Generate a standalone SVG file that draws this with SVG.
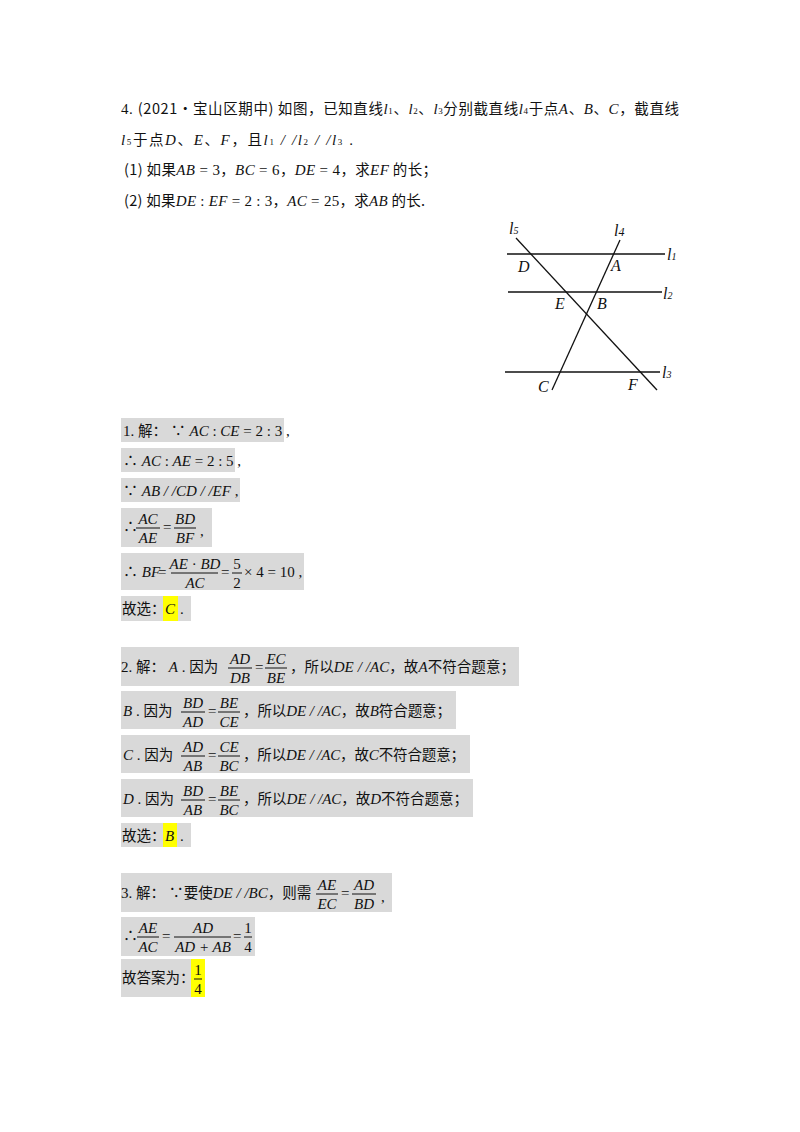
<svg xmlns="http://www.w3.org/2000/svg" width="800" height="1132" viewBox="0 0 800 1132">
<style>
text{font-family:"Liberation Serif","Noto Sans CJK SC",serif;font-size:15px;fill:#111}
.i{font-style:italic}
.c{font-family:"Noto Sans CJK SC","Liberation Sans",sans-serif;font-size:14.5px}
.bg{fill:#d9d9d9}
.hl{fill:#ffff00}
.fl{stroke:#111;stroke-width:1}
.g{stroke:#111;stroke-width:1.3;fill:none}
.lb{font-family:"Liberation Serif",serif;font-style:italic;font-size:16px}
</style>
<rect width="800" height="1132" fill="#fff"/>
<g id="question">
<text x="121" y="114" textLength="558" lengthAdjust="spacing">4. <tspan class="c">(2021•宝山区期中) 如图，已知直线</tspan><tspan class="i">l</tspan><tspan font-size="9">1</tspan><tspan class="c">、</tspan><tspan class="i">l</tspan><tspan font-size="9">2</tspan><tspan class="c">、</tspan><tspan class="i">l</tspan><tspan font-size="9">3</tspan><tspan class="c">分别截直线</tspan><tspan class="i">l</tspan><tspan font-size="9">4</tspan><tspan class="c">于点</tspan><tspan class="i">A</tspan><tspan class="c">、</tspan><tspan class="i">B</tspan><tspan class="c">、</tspan><tspan class="i">C</tspan><tspan class="c">，截直线</tspan></text>
<text x="121" y="145" textLength="232" lengthAdjust="spacing"><tspan class="i">l</tspan><tspan font-size="9">5</tspan><tspan class="c">于点</tspan><tspan class="i">D</tspan><tspan class="c">、</tspan><tspan class="i">E</tspan><tspan class="c">、</tspan><tspan class="i">F</tspan><tspan class="c">，且</tspan><tspan class="i">l</tspan><tspan font-size="9">1</tspan><tspan class="i"> / /l</tspan><tspan font-size="9">2</tspan><tspan class="i"> / /l</tspan><tspan font-size="9">3</tspan> .</text>
<text x="124" y="175" textLength="313" lengthAdjust="spacing"><tspan class="c">(1) 如果</tspan><tspan class="i">AB</tspan> = 3<tspan class="c">，</tspan><tspan class="i">BC</tspan> = 6<tspan class="c">，</tspan><tspan class="i">DE</tspan> = 4<tspan class="c">，求</tspan><tspan class="i">EF</tspan><tspan class="c"> 的长；</tspan></text>
<text x="124" y="206" textLength="301" lengthAdjust="spacing"><tspan class="c">(2) 如果</tspan><tspan class="i">DE</tspan> : <tspan class="i">EF</tspan> = 2 : 3<tspan class="c">，</tspan><tspan class="i">AC</tspan> = 25<tspan class="c">，求</tspan><tspan class="i">AB</tspan><tspan class="c"> 的长.</tspan></text>
</g>
<g id="figure">
<line class="g" x1="507" y1="254" x2="665" y2="254"/>
<line class="g" x1="508" y1="292" x2="662" y2="292"/>
<line class="g" x1="505" y1="372" x2="660" y2="372"/>
<line class="g" x1="516" y1="238" x2="657" y2="390"/>
<line class="g" x1="620" y1="240" x2="552" y2="390"/>
<text class="lb" x="509" y="234">l<tspan font-size="10">5</tspan></text>
<text class="lb" x="614" y="236">l<tspan font-size="12">4</tspan></text>
<text class="lb" x="667" y="260">l<tspan font-size="10">1</tspan></text>
<text class="lb" x="663" y="299">l<tspan font-size="10">2</tspan></text>
<text class="lb" x="662" y="378">l<tspan font-size="10">3</tspan></text>
<text class="lb" x="518" y="272">D</text>
<text class="lb" x="611" y="271">A</text>
<text class="lb" x="555" y="309">E</text>
<text class="lb" x="597" y="309">B</text>
<text class="lb" x="538" y="392">C</text>
<text class="lb" x="628" y="390">F</text>
</g>
<g id="solution1">
<rect class="bg" x="121" y="418" width="163" height="24"/>
<text x="123" y="436">1. <tspan class="c">解：</tspan> ∵ <tspan class="i">AC</tspan> : <tspan class="i">CE</tspan> = 2 : 3 ,</text>
<rect class="bg" x="121" y="448" width="114" height="24"/>
<text x="123" y="466">∴ <tspan class="i">AC</tspan> : <tspan class="i">AE</tspan> = 2 : 5 ,</text>
<rect class="bg" x="121" y="478" width="119" height="24"/>
<text x="123" y="496">∵ <tspan class="i">AB</tspan><tspan class="i"> / /CD / /EF</tspan> ,</text>
<rect class="bg" x="121" y="508" width="91" height="39"/>
<text x="123" y="532">∴</text>
<text class="i" x="148" y="524" text-anchor="middle">AC</text>
<line class="fl" x1="136" y1="528" x2="160" y2="528"/>
<text class="i" x="148" y="543" text-anchor="middle">AE</text>
<text x="163" y="532">=</text>
<text class="i" x="185" y="524" text-anchor="middle">BD</text>
<line class="fl" x1="174" y1="528" x2="196" y2="528"/>
<text class="i" x="185" y="543" text-anchor="middle">BF</text>
<text x="200" y="536">,</text>
<rect class="bg" x="121" y="553" width="183" height="37"/>
<text x="123" y="577">∴ <tspan class="i">BF</tspan></text>
<text x="158" y="577">=</text>
<text x="195" y="569" text-anchor="middle"><tspan class="i">AE</tspan> · <tspan class="i">BD</tspan></text>
<line class="fl" x1="171" y1="573" x2="218" y2="573"/>
<text class="i" x="195" y="588" text-anchor="middle">AC</text>
<text x="221" y="577">=</text>
<text x="237" y="569" text-anchor="middle">5</text>
<line class="fl" x1="232" y1="573" x2="242" y2="573"/>
<text x="237" y="588" text-anchor="middle">2</text>
<text x="244" y="577">× 4 = 10 ,</text>
<rect class="bg" x="121" y="596" width="70" height="25"/>
<rect class="hl" x="163" y="596" width="15" height="25"/>
<text x="122" y="614"><tspan class="c">故选：</tspan></text>
<text class="i" x="165" y="614">C</text>
<text x="180" y="614">.</text>
</g>
<g id="solution2">
<rect class="bg" x="121" y="647" width="398" height="39"/>
<text x="121" y="672">2. <tspan class="c">解：</tspan> <tspan class="i">A</tspan> . <tspan class="c">因为</tspan></text>
<text class="i" x="240" y="664" text-anchor="middle">AD</text>
<line class="fl" x1="228" y1="668" x2="252" y2="668"/>
<text class="i" x="240" y="683" text-anchor="middle">DB</text>
<text x="255" y="672">=</text>
<text class="i" x="276" y="664" text-anchor="middle">EC</text>
<line class="fl" x1="265" y1="668" x2="287" y2="668"/>
<text class="i" x="276" y="683" text-anchor="middle">BE</text>
<text x="290" y="672" textLength="225" lengthAdjust="spacing"><tspan class="c">，所以</tspan><tspan class="i">DE</tspan><tspan class="i"> / /AC</tspan><tspan class="c">，故</tspan><tspan class="i">A</tspan><tspan class="c">不符合题意；</tspan></text>
<rect class="bg" x="121" y="691" width="335" height="38"/>
<text x="123" y="716"><tspan class="i">B</tspan> . <tspan class="c">因为</tspan></text>
<text class="i" x="193" y="708" text-anchor="middle">BD</text>
<line class="fl" x1="181" y1="712" x2="205" y2="712"/>
<text class="i" x="193" y="727" text-anchor="middle">AD</text>
<text x="208" y="716">=</text>
<text class="i" x="229" y="708" text-anchor="middle">BE</text>
<line class="fl" x1="218" y1="712" x2="240" y2="712"/>
<text class="i" x="229" y="727" text-anchor="middle">CE</text>
<text x="243" y="716" textLength="208" lengthAdjust="spacing"><tspan class="c">，所以</tspan><tspan class="i">DE</tspan><tspan class="i"> / /AC</tspan><tspan class="c">，故</tspan><tspan class="i">B</tspan><tspan class="c">符合题意；</tspan></text>
<rect class="bg" x="121" y="735" width="349" height="38"/>
<text x="123" y="760"><tspan class="i">C</tspan> . <tspan class="c">因为</tspan></text>
<text class="i" x="193" y="752" text-anchor="middle">AD</text>
<line class="fl" x1="181" y1="756" x2="205" y2="756"/>
<text class="i" x="193" y="771" text-anchor="middle">AB</text>
<text x="208" y="760">=</text>
<text class="i" x="229" y="752" text-anchor="middle">CE</text>
<line class="fl" x1="218" y1="756" x2="240" y2="756"/>
<text class="i" x="229" y="771" text-anchor="middle">BC</text>
<text x="243" y="760" textLength="222" lengthAdjust="spacing"><tspan class="c">，所以</tspan><tspan class="i">DE</tspan><tspan class="i"> / /AC</tspan><tspan class="c">，故</tspan><tspan class="i">C</tspan><tspan class="c">不符合题意；</tspan></text>
<rect class="bg" x="121" y="779" width="352" height="38"/>
<text x="123" y="804"><tspan class="i">D</tspan> . <tspan class="c">因为</tspan></text>
<text class="i" x="193" y="796" text-anchor="middle">BD</text>
<line class="fl" x1="181" y1="800" x2="205" y2="800"/>
<text class="i" x="193" y="815" text-anchor="middle">AB</text>
<text x="208" y="804">=</text>
<text class="i" x="229" y="796" text-anchor="middle">BE</text>
<line class="fl" x1="218" y1="800" x2="240" y2="800"/>
<text class="i" x="229" y="815" text-anchor="middle">BC</text>
<text x="243" y="804" textLength="225" lengthAdjust="spacing"><tspan class="c">，所以</tspan><tspan class="i">DE</tspan><tspan class="i"> / /AC</tspan><tspan class="c">，故</tspan><tspan class="i">D</tspan><tspan class="c">不符合题意；</tspan></text>
<rect class="bg" x="121" y="823" width="70" height="24"/>
<rect class="hl" x="163" y="823" width="14" height="24"/>
<text x="122" y="841"><tspan class="c">故选：</tspan></text>
<text class="i" x="165" y="841">B</text>
<text x="180" y="841">.</text>
</g>
<g id="solution3">
<rect class="bg" x="121" y="873" width="271" height="39"/>
<text x="121" y="898">3. <tspan class="c">解：</tspan> ∵<tspan class="c">要使</tspan><tspan class="i">DE</tspan><tspan class="i"> / /BC</tspan><tspan class="c">，则需</tspan></text>
<text class="i" x="327" y="890" text-anchor="middle">AE</text>
<line class="fl" x1="316" y1="894" x2="338" y2="894"/>
<text class="i" x="327" y="909" text-anchor="middle">EC</text>
<text x="341" y="898">=</text>
<text class="i" x="364" y="890" text-anchor="middle">AD</text>
<line class="fl" x1="352" y1="894" x2="376" y2="894"/>
<text class="i" x="364" y="909" text-anchor="middle">BD</text>
<text x="381" y="902">,</text>
<rect class="bg" x="121" y="917" width="134" height="39"/>
<text x="123" y="941">∴</text>
<text class="i" x="148" y="933" text-anchor="middle">AE</text>
<line class="fl" x1="137" y1="937" x2="159" y2="937"/>
<text class="i" x="148" y="952" text-anchor="middle">AC</text>
<text x="162" y="941">=</text>
<text class="i" x="203" y="933" text-anchor="middle">AD</text>
<line class="fl" x1="174" y1="937" x2="231" y2="937"/>
<text class="i" x="203" y="952" text-anchor="middle">AD + AB</text>
<text x="233" y="941">=</text>
<text x="248" y="933" text-anchor="middle">1</text>
<line class="fl" x1="244" y1="937" x2="252" y2="937"/>
<text x="248" y="952" text-anchor="middle">4</text>
<rect class="bg" x="121" y="959" width="84" height="38"/>
<rect class="hl" x="191" y="959" width="14" height="38"/>
<text x="122" y="983"><tspan class="c">故答案为：</tspan></text>
<text x="198" y="975" text-anchor="middle">1</text>
<line class="fl" x1="194" y1="979" x2="202" y2="979"/>
<text x="198" y="994" text-anchor="middle">4</text>
</g>
</svg>
